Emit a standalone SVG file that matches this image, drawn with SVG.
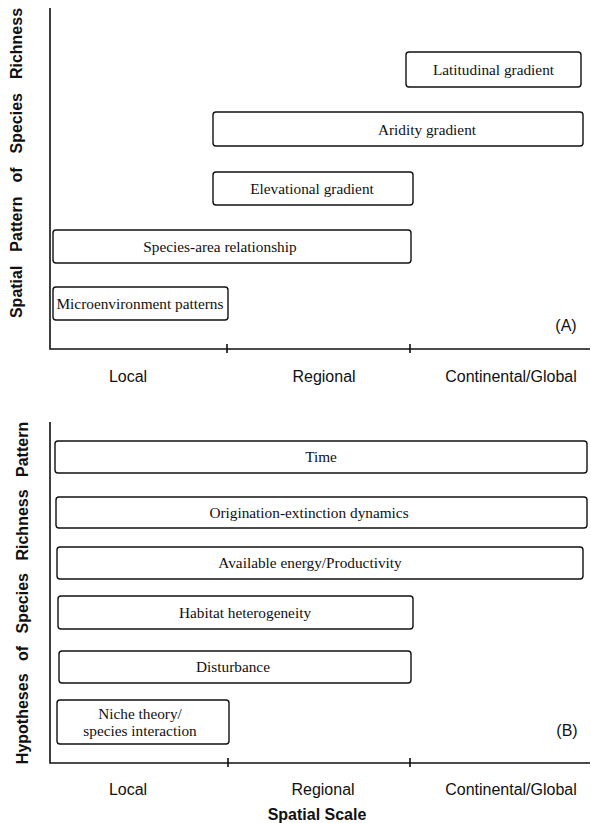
<svg xmlns="http://www.w3.org/2000/svg" width="591" height="823" viewBox="0 0 591 823">
<style>
.box{fill:#fff;stroke:#111;stroke-width:1.4}
.bt{font-family:"Liberation Serif",serif;font-size:15.3px;fill:#111;text-anchor:middle}
.ax{stroke:#111;stroke-width:1.6;fill:none}
.tl{font-family:"Liberation Sans",Arial,sans-serif;font-size:16px;fill:#111;text-anchor:middle}
.yl{font-family:"Liberation Sans",Arial,sans-serif;font-size:16px;font-weight:bold;fill:#111;text-anchor:middle}
</style>
<g id="axes">
<path class="ax" d="M50,8 V349 H590"/>
<path class="ax" d="M227,344 V353 M410,344 V353"/>
<path class="ax" d="M50,422 V763 H590"/>
<path class="ax" d="M228,758 V767 M410,758 V767"/>
</g>
<g id="labels">
<text class="yl" style="word-spacing:9.5px" transform="translate(22,163) rotate(-90)">Spatial Pattern of Species Richness</text>
<text class="yl" style="word-spacing:8px" transform="translate(28,593) rotate(-90)">Hypotheses of Species Richness Pattern</text>
<text class="tl" x="128" y="382">Local</text>
<text class="tl" x="324" y="382">Regional</text>
<text class="tl" x="511" y="382">Continental/Global</text>
<text class="tl" x="566" y="331">(A)</text>
<text class="tl" x="128" y="795">Local</text>
<text class="tl" x="323" y="795">Regional</text>
<text class="tl" x="511" y="795">Continental/Global</text>
<text class="tl" x="567" y="736">(B)</text>
<text class="tl" x="317" y="820" style="font-weight:bold">Spatial Scale</text>
</g>
<g id="latitudinal"><rect class="box" x="406" y="52" width="175" height="35" rx="3"/><text class="bt" x="493.5" y="75">Latitudinal gradient</text></g>
<g id="aridity"><rect class="box" x="213" y="112" width="370" height="34" rx="3"/><text class="bt" x="427" y="135">Aridity gradient</text></g>
<g id="elevational"><rect class="box" x="213" y="172" width="200" height="33" rx="3"/><text class="bt" x="312" y="194">Elevational gradient</text></g>
<g id="species-area"><rect class="box" x="53" y="230" width="358" height="33" rx="3"/><text class="bt" x="220" y="252">Species-area relationship</text></g>
<g id="microenvironment"><rect class="box" x="53" y="287" width="175" height="33" rx="3"/><text class="bt" x="140" y="309">Microenvironment patterns</text></g>
<g id="time"><rect class="box" x="55" y="441" width="532" height="32" rx="3"/><text class="bt" x="321" y="462">Time</text></g>
<g id="origination"><rect class="box" x="56" y="497" width="531" height="31" rx="3"/><text class="bt" x="309" y="518">Origination-extinction dynamics</text></g>
<g id="energy"><rect class="box" x="57" y="547" width="526" height="32" rx="3"/><text class="bt" x="310" y="568">Available energy/Productivity</text></g>
<g id="habitat"><rect class="box" x="58" y="596" width="355" height="33" rx="3"/><text class="bt" x="245" y="618">Habitat heterogeneity</text></g>
<g id="disturbance"><rect class="box" x="59" y="651" width="352" height="32" rx="3"/><text class="bt" x="233" y="672">Disturbance</text></g>
<g id="niche"><rect class="box" x="57" y="700" width="172" height="44" rx="3"/><text class="bt" x="140" y="719">Niche theory/</text><text class="bt" x="140" y="736">species interaction</text></g>
</svg>
